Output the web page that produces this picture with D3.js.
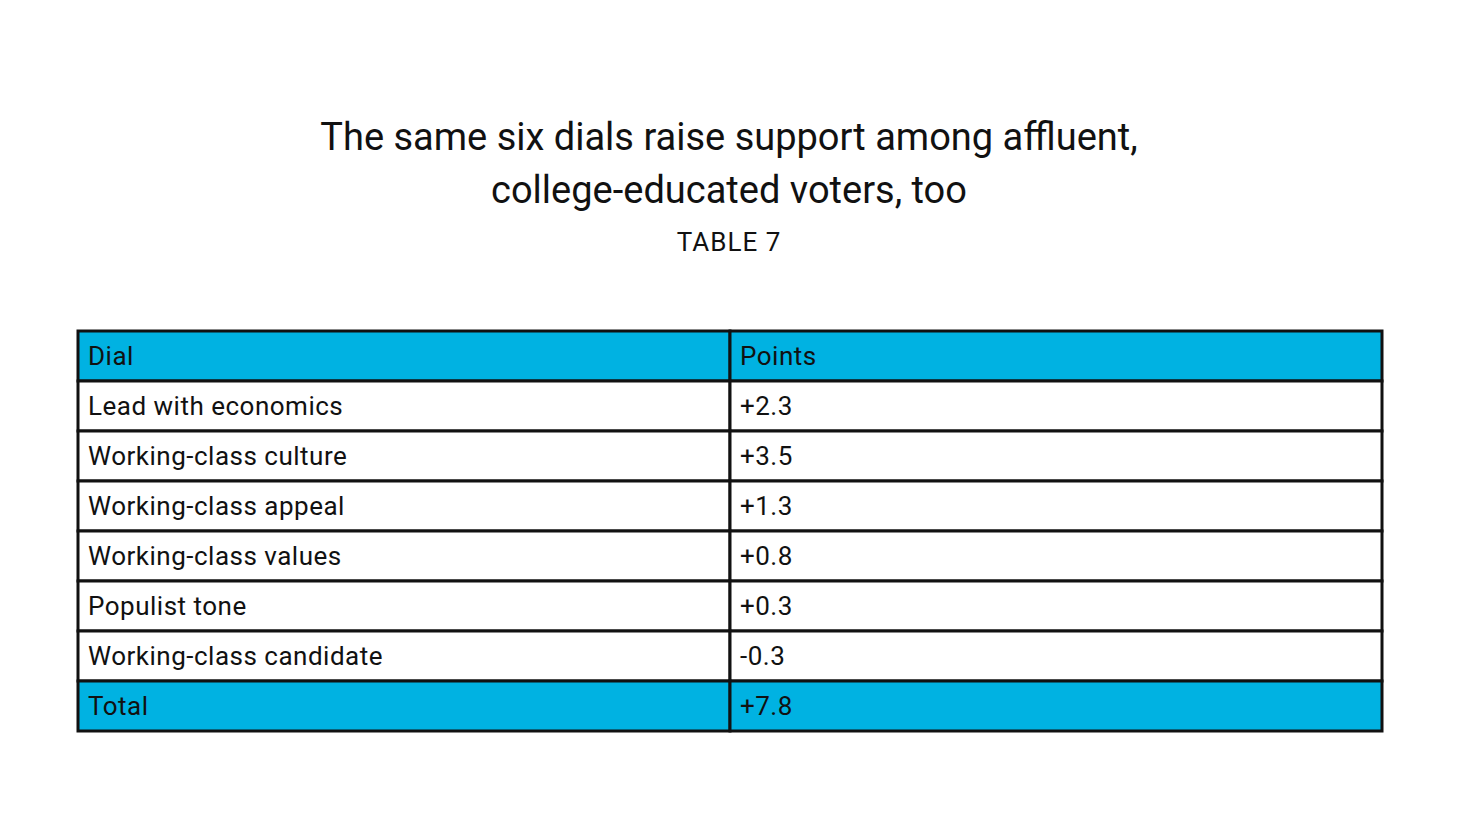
<!DOCTYPE html>
<html><head><meta charset="utf-8">
<script src="https://cdn.jsdelivr.net/npm/d3@7"></script>
<style>body{margin:0;background:#fff}</style></head>
<body><script>
const titleLines=["The same six dials raise support among affluent,","college-educated voters, too"];
const subtitle="TABLE 7";
const headers=["Dial","Points"];
const dials=["Lead with economics","Working-class culture","Working-class appeal","Working-class values","Populist tone","Working-class candidate","Total"];
const points=["+2.3","+3.5","+1.3","+0.8","+0.3","-0.3","+7.8"];

const W=1458,H=833,font="Roboto, 'Liberation Sans', sans-serif";
const svg=d3.select("body").append("svg").attr("width",W).attr("height",H);
svg.selectAll("text.t").data(titleLines).join("text").attr("x",W/2).attr("y",(d,i)=>150+i*53)
 .attr("text-anchor","middle").attr("font-family",font).attr("font-size",38).attr("fill","#111").text(d=>d);
svg.append("text").attr("x",W/2).attr("y",251).attr("text-anchor","middle").attr("font-family",font)
 .attr("font-size",26).attr("letter-spacing",1).attr("fill","#111").text(subtitle);

const rows=[headers].concat(dials.map((d,i)=>[d,points[i]]));
const y=d3.scaleBand().domain(d3.range(rows.length)).range([331,731]);
const x=d3.scaleOrdinal().domain([0,1,2]).range([78,730,1382]);
const g=svg.selectAll("g.r").data(rows).join("g");
g.each(function(r,i){
  const s=d3.select(this);
  const fill=(i===0||i===rows.length-1)?"#00b2e2":"#fff";
  [0,1].forEach(c=>{
    s.append("rect").attr("x",x(c)).attr("y",y(i)).attr("width",x(c+1)-x(c)).attr("height",y.bandwidth())
     .attr("fill",fill).attr("stroke","#111").attr("stroke-width",3);
    s.append("text").attr("x",x(c)+10).attr("y",y(i)+y.bandwidth()/2+9).attr("font-family",font)
     .attr("font-size",26).attr("fill","#111").attr("letter-spacing",0.5).text(r[c]);
  });
});
</script></body></html>
